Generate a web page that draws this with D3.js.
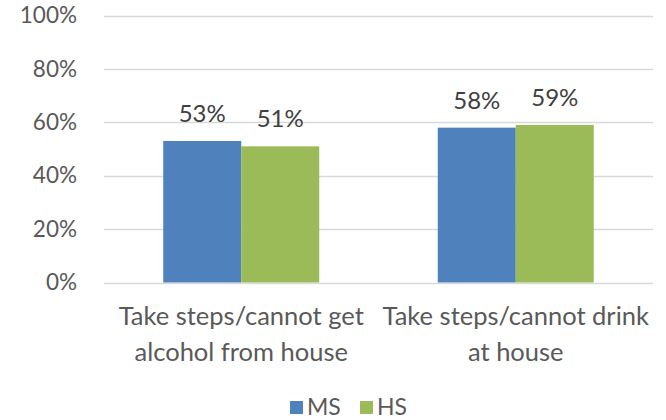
<!DOCTYPE html>
<html>
<head>
<meta charset="utf-8">
<script src="https://cdn.jsdelivr.net/npm/d3@7"></script>
<style>
  html, body { margin: 0; padding: 0; background: #fff; }
  svg text { font-family: Lato, "Open Sans", sans-serif; fill: #595959; }
</style>
</head>
<body>
<svg id="chart" width="666" height="420"></svg>
<script>
const categories = [["Take steps/cannot get", "alcohol from house"], ["Take steps/cannot drink", "at house"]];
const seriesNames = ["MS", "HS"];
const msValues = [0.53, 0.58];
const hsValues = [0.51, 0.59];
const yTicks = [0, 0.2, 0.4, 0.6, 0.8, 1.0];
const colors = ["#4F81BD", "#9BBB59"];

const svg = d3.select("#chart");
const plot = { left: 104, right: 653, top: 15.5, bottom: 282.5 };

const x0 = d3.scaleBand().domain(d3.range(categories.length))
  .range([plot.left, plot.right]).paddingInner(0.4317).paddingOuter(0.2158);
const x1 = d3.scaleBand().domain(seriesNames).range([0, x0.bandwidth()]);
const y = d3.scaleLinear().domain([0, 1]).range([plot.bottom, plot.top]);

// gridlines
svg.append("g").selectAll("line").data(yTicks).join("line")
  .attr("x1", plot.left).attr("x2", plot.right)
  .attr("y1", d => Math.round(y(d)) + 0.5).attr("y2", d => Math.round(y(d)) + 0.5)
  .attr("stroke", "#D9D9D9").attr("stroke-width", 1.3);

// y axis labels
const yAxis = d3.axisLeft(y).tickValues(yTicks).tickFormat(d3.format(".0%")).tickSize(0).tickPadding(0);
const ya = svg.append("g").attr("transform", `translate(77,0)`).call(yAxis);
ya.select(".domain").remove();
ya.selectAll("text").style("font-size", "22.5px").style("font-family", "Lato, sans-serif").attr("fill", "#595959");

const data = categories.map((c, i) => ({ i, vals: [msValues[i], hsValues[i]] }));

const groups = svg.append("g").selectAll("g").data(data).join("g")
  .attr("transform", d => `translate(${x0(d.i)},0)`);

groups.selectAll("rect").data(d => d.vals.map((v, k) => ({ v, k }))).join("rect")
  .attr("x", d => x1(seriesNames[d.k]))
  .attr("width", x1.bandwidth())
  .attr("y", d => y(d.v))
  .attr("height", d => y(0) - y(d.v))
  .attr("fill", d => colors[d.k]);

groups.selectAll("text.val").data(d => d.vals.map((v, k) => ({ v, k }))).join("text")
  .attr("class", "val")
  .attr("x", d => x1(seriesNames[d.k]) + x1.bandwidth() / 2)
  .attr("y", d => y(d.v) - 19)
  .attr("text-anchor", "middle")
  .style("font-size", "24px")
  .style("fill", "#404040")
  .text(d => d3.format(".0%")(d.v));

// category labels
const cat = svg.append("g").selectAll("text").data(categories).join("text")
  .attr("text-anchor", "middle")
  .attr("x", (d, i) => x0(i) + x0.bandwidth() / 2)
  .attr("y", 325)
  .style("font-size", "25.5px");
cat.selectAll("tspan").data(d => d).join("tspan")
  .attr("x", function() { return d3.select(this.parentNode).attr("x"); })
  .attr("dy", (d, j) => j === 0 ? 0 : 36)
  .text(d => d);

// legend
const legend = svg.append("g");
const legendItems = [{ name: "MS", x: 290 }, { name: "HS", x: 360 }];
legendItems.forEach((it, k) => {
  legend.append("rect").attr("x", it.x).attr("y", 401).attr("width", 13).attr("height", 13).attr("fill", colors[k]);
  legend.append("text").attr("x", it.x + 17).attr("y", 415).style("font-size", "23px").text(it.name);
});
</script>
</body>
</html>
